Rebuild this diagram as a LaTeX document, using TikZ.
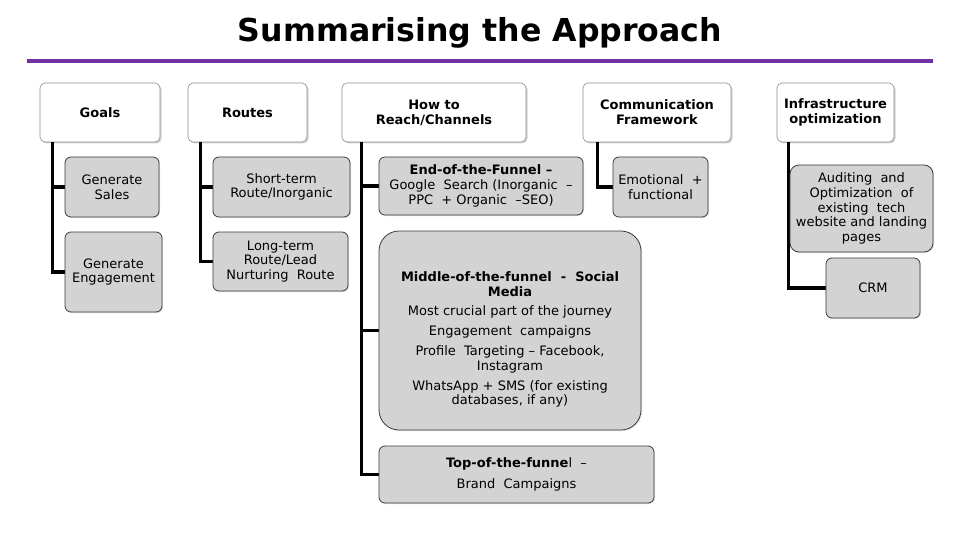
\documentclass[tikz,border=0pt]{standalone}
\usepackage{fontspec}
\setmainfont{DejaVu Sans}
\usetikzlibrary{calc,shadows}
\definecolor{purp}{RGB}{112,48,160}
\definecolor{boxgray}{RGB}{211,211,211}
\definecolor{edgegray}{RGB}{60,60,60}
\begin{document}
\begin{tikzpicture}[x=1pt,y=-1pt,
  every node/.style={font=\fontsize{13}{14.8}\selectfont, align=center, inner sep=0pt},
  headbox/.style={draw=black!45, line width=0.6pt, fill=white, rounded corners=5pt,
    drop shadow={opacity=0.35, shadow xshift=1.5pt, shadow yshift=-1.5pt}, minimum height=59pt},
  itembox/.style={draw=edgegray, line width=0.8pt, fill=boxgray, rounded corners=6pt,
    drop shadow={opacity=0.25, shadow xshift=1pt, shadow yshift=-1pt}},
  conn/.style={draw=black, line width=3.2pt}
]
\useasboundingbox (0,0) rectangle (960,540);
\fill[white] (0,0) rectangle (960,540);

% title
\node[font=\fontsize{31.6}{36}\selectfont\bfseries] (title) at (480,33) {Summarising the Approach};
\coordinate (ruleL) at (27,61);
\coordinate (ruleR) at (933,61);
\draw[purp, line width=4.5pt] (ruleL) -- (ruleR);

% headers
\node[headbox, minimum width=120pt] (goals) at (100,112.5) {\textbf{Goals}};
\node[headbox, minimum width=119pt] (routes) at (247.5,112.5) {\textbf{Routes}};
\node[headbox, minimum width=184pt] (howto) at (434,112.5) {\textbf{How to}\\\textbf{Reach/Channels}};
\node[headbox, minimum width=148pt] (comm) at (657,112.5) {\textbf{Communication}\\\textbf{Framework}};
\node[headbox, minimum width=117pt] (infra) at (835.5,112.5) {\textbf{Infrastructure}\\\textbf{optimization}};

% connector tops
\coordinate (gtop) at ($(goals.south west)+(13,0)$);
\coordinate (rtop) at ($(routes.south west)+(13,0)$);
\coordinate (htop) at ($(howto.south west)+(20,0)$);
\coordinate (ctop) at ($(comm.south west)+(15,0)$);
\coordinate (itop) at ($(infra.south west)+(12,0)$);

% item box frames (used as connector targets)
\path
  node[minimum width=94pt, minimum height=60pt] (sales) at (112,187) {}
  node[minimum width=97pt, minimum height=80pt] (eng) at (113.5,272) {}
  node[minimum width=137pt, minimum height=60pt] (short) at (281.5,187) {}
  node[minimum width=135pt, minimum height=59pt] (long) at (280.5,261.5) {}
  node[minimum width=204pt, minimum height=58pt] (endf) at (481,186) {}
  node[minimum width=262pt, minimum height=199pt] (midf) at (510,330.5) {}
  node[minimum width=275pt, minimum height=57pt] (topf) at (516.5,474.5) {}
  node[minimum width=95pt, minimum height=60pt] (emo) at (660.5,187) {}
  node[minimum width=143pt, minimum height=87pt] (audit) at (861.5,208.5) {}
  node[minimum width=94pt, minimum height=60pt] (crm) at (873,288) {};

% connectors
\draw[conn] (gtop) |- (sales.west);
\draw[conn] (gtop) |- (eng.west);
\draw[conn] (rtop) |- (short.west);
\draw[conn] (rtop) |- (long.west);
\draw[conn] (htop) |- (endf.west);
\draw[conn] (htop) |- (midf.west);
\draw[conn] (htop) |- (topf.west);
\draw[conn] (ctop) |- (emo.west);
\draw[conn] (itop) |- (crm.west);

% visible item boxes
\node[itembox, minimum width=94pt, minimum height=60pt] (salesbox) at (sales) {Generate\\Sales};
\node[itembox, minimum width=97pt, minimum height=80pt] (engbox) at (eng) {Generate\\Engagement};
\node[itembox, minimum width=137pt, minimum height=60pt] (shortbox) at (short) {Short-term\\Route/Inorganic};
\node[itembox, minimum width=135pt, minimum height=59pt] (longbox) at (long) {Long-term\\Route/Lead\\Nurturing\ \ Route};
\node[itembox, minimum width=204pt, minimum height=58pt] (endbox) at (endf) {\textbf{End-of-the-Funnel –}\\Google\ \ Search (Inorganic\ \ –\\PPC\ \ + Organic\ \ –SEO)};
\node[itembox, rounded corners=20pt, minimum width=262pt, minimum height=199pt] (midbox) at (midf) {};
\node (midtext) at ($(midf)+(0,9)$)
  {\textbf{Middle-of-the-funnel\ \ -\ \ Social}\\\textbf{Media}\\[5pt]
   Most crucial part of the journey\\[5pt]
   Engagement\ \ campaigns\\[5pt]
   Profile\ \ Targeting – Facebook,\\Instagram\\[5pt]
   WhatsApp + SMS (for existing\\databases, if any)};
\node[itembox, minimum width=275pt, minimum height=57pt] (topbox) at (topf) {\textbf{Top-of-the-funne}l\ \ –\\[6pt]Brand\ \ Campaigns};
\node[itembox, minimum width=95pt, minimum height=60pt] (emobox) at (emo) {Emotional\ \ +\\functional};
\node[itembox, rounded corners=9pt, minimum width=143pt, minimum height=87pt] (auditbox) at (audit) {Auditing\ \ and\\Optimization\ \ of\\existing\ \ tech\\website and landing\\pages};
\node[itembox, minimum width=94pt, minimum height=60pt] (crmbox) at (crm) {CRM};
\end{tikzpicture}
\end{document}
